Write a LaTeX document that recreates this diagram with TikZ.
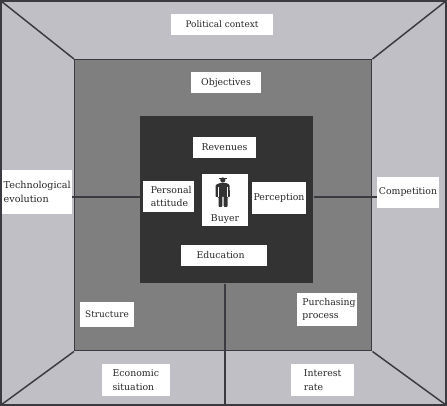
\documentclass[tikz,border=0pt]{standalone}
\usepackage{fontspec}
\setmainfont{DejaVu Serif}
\definecolor{outerg}{HTML}{C0BFC5}
\definecolor{midg}{HTML}{7F7F7F}
\definecolor{darkg}{HTML}{333333}
\definecolor{linec}{HTML}{3A3A40}
\tikzset{
  lab/.style={fill=white,inner sep=0pt,text=black!85,font=\fontsize{7.0}{10}\selectfont,align=left,anchor=center},
  conn/.style={draw=linec,line width=1.1pt},
}
\begin{document}
\begin{tikzpicture}[x=0.75pt,y=-0.75pt]
\useasboundingbox (0,0) rectangle (447,406);
\fill[outerg] (0,0) rectangle (447,406);
\draw[linec,line width=1.5pt] (1,1) rectangle (446,405);
\coordinate (o1) at (1,1);\coordinate (o2) at (446,1);\coordinate (o3) at (446,405);\coordinate (o4) at (1,405);
\node[draw=linec,line width=1.1pt,fill=midg,minimum width=222.75pt,minimum height=218.25pt,inner sep=0pt,anchor=north west] (mid) at (74,59) {};
\node[fill=darkg,minimum width=129.75pt,minimum height=125.25pt,inner sep=0pt,anchor=north west] (core) at (140,116) {};
\node[lab,minimum width=76.5pt,minimum height=15.75pt] (pol) at (222,24.5) {\fontsize{6.7}{10}\selectfont Political context};
\node[lab,minimum width=52.5pt,minimum height=15.75pt] (obj) at (226,82.5) {Objectives};
\node[lab,minimum width=47.25pt,minimum height=15.75pt] (rev) at (224.5,147.5) {Revenues};
\node[lab,minimum width=38.25pt,minimum height=23.25pt] (att) at (168.5,196.5) {\hspace{4pt}Personal\\\hspace{4pt}attitude};
\node[lab,minimum width=34.5pt,minimum height=39pt] (buy) at (225,200) {};
\node[lab,anchor=base] (buyt) at (225,222) {Buyer};
\node[lab,minimum width=40.5pt,minimum height=24pt] (per) at (279,198) {Perception};
\node[lab,minimum width=64.5pt,minimum height=15.75pt,text width=62pt] (edu) at (224,255.5) {\hspace{10.5pt}Education};
\node[lab,minimum width=40.5pt,minimum height=18.75pt] (str) at (107,314.5) {\fontsize{6.7}{10}\selectfont Structure};
\node[lab,minimum width=45pt,minimum height=24.75pt,text width=43pt] (pur) at (327,309.5) {\hspace{3pt}Purchasing\\\hspace{3pt}process};
\node[lab,minimum width=51pt,minimum height=24pt,text width=41pt] (eco) at (136,380) {\hspace{3pt}Economic\\\hspace{3pt}situation};
\node[lab,minimum width=47.25pt,minimum height=24pt,text width=28pt] (int) at (322.5,380) {Interest\\rate};
\node[lab,minimum width=52.5pt,minimum height=33pt,text width=50pt] (tec) at (37,192) {\fontsize{7.2}{10}\selectfont Technological\\evolution};
\node[lab,minimum width=46.5pt,minimum height=23.25pt] (com) at (408,192.5) {Competition};
% figure
\fill[darkg] (222.8,180) circle (2.6);
\fill[darkg] (218.5,177.6) rectangle (227,179.4);
\fill[darkg,rounded corners=0.7pt]
 (220,183) -- (226,183) -- (229.5,184.5) -- (230,197) -- (227.5,197) -- (227.5,207) -- (223.6,207) -- (223.6,196) -- (222.4,196) -- (222.4,207) -- (218.5,207) -- (218.5,197) -- (215.5,197) -- (215.5,185) -- cycle;
\fill[white] (218,187) rectangle (218.6,197);
\fill[white] (227.3,187) rectangle (227.9,197);
\draw[conn] (o1) -- (mid.north west);
\draw[conn] (o2) -- (mid.north east);
\draw[conn] (o3) -- (mid.south east);
\draw[conn] (o4) -- (mid.south west);
\draw[conn] (tec.east |- 0,197) -- (core.west |- 0,197);
\draw[conn] (core.east |- 0,197) -- (com.west |- 0,197);
\coordinate (bt) at (225,404);
\draw[conn] (core.south -| bt) -- (bt);
\end{tikzpicture}
\end{document}
